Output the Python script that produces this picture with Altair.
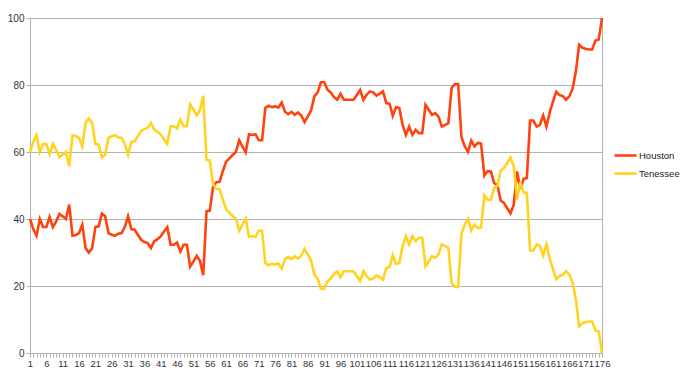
import altair as alt
import pandas as pd

index = list(range(1, 177))

houston = [
    40, 37, 35, 40, 37.6, 37.6, 40.6, 37.6, 39.3, 41.5,
    40.8, 40, 44.3, 35, 35.2, 35.8, 38.3, 31.3, 30, 31.3,
    37.6, 37.8, 41.6, 40.8, 35.8, 35.3, 35, 35.6, 35.8, 37.6,
    40.8, 37, 36.8, 35.3, 33.8, 33.1, 32.8, 31.3, 33.3, 34,
    34.8, 36.3, 37.6, 32.3, 32.3, 33, 30.3, 32.3, 32.3, 25.8,
    27.3, 29, 27.5, 23.2, 42.3, 42.5, 49.5, 51, 51.1, 54.3,
    57.1, 58.1, 59.1, 60, 63.5, 61.6, 59.9, 65.3, 65.1, 65.3,
    63.5, 63.5, 73.2, 73.8, 73.4, 73.6, 73.3, 74.8, 72, 71.3,
    72, 71.1, 71.8, 70.9, 68.9, 70.6, 72.4, 76.6, 77.8, 80.8,
    80.8, 78.6, 77.8, 76.4, 75.6, 77.4, 75.6, 75.6, 75.6, 75.6,
    77, 78.5, 75.6, 77.1, 78.1, 77.8, 76.8, 77.4, 78.1, 74.6,
    74.4, 70.8, 73.4, 73.1, 68.1, 65.1, 67.6, 65.1, 66.6, 65.6,
    65.6, 74.1, 72.6, 71.1, 71.6, 70.5, 67.6, 68.1, 68.6, 79.1,
    80.3, 80.3, 64.4, 61.7, 60, 63.4, 61.7, 62.7, 62.5, 53,
    54.3, 54.2, 50.7, 50.2, 45.5, 44.8, 43.2, 41.7, 44.2, 54.2,
    49, 52, 52.2, 69.4, 69.4, 67.6, 68.1, 70.9, 67.6, 71.8,
    75, 78, 77, 76.7, 75.6, 76.6, 78.9, 84, 92, 91.1,
    90.8, 90.6, 90.6, 93.3, 93.6, 100,
]

tenessee = [
    60, 63, 65, 60, 62.4, 62.4, 59.4, 62.4, 60.7, 58.5,
    59.2, 60, 55.7, 65, 64.8, 64.2, 61.7, 68.7, 70, 68.7,
    62.4, 62.2, 58.4, 59.2, 64.2, 64.7, 65, 64.4, 64.2, 62.4,
    59.2, 63, 63.2, 64.7, 66.2, 66.9, 67.2, 68.7, 66.7, 66,
    65.2, 63.7, 62.4, 67.7, 67.7, 67, 69.7, 67.7, 67.7, 74.2,
    72.7, 71, 72.5, 76.8, 57.7, 57.5, 50.5, 49, 48.9, 45.7,
    42.9, 41.9, 40.9, 40, 36.5, 38.4, 40.1, 34.7, 34.9, 34.7,
    36.5, 36.5, 26.8, 26.2, 26.6, 26.4, 26.7, 25.2, 28, 28.7,
    28, 28.9, 28.2, 29.1, 31.1, 29.4, 27.6, 23.4, 22.2, 19.2,
    19.2, 21.4, 22.2, 23.6, 24.4, 22.6, 24.4, 24.4, 24.4, 24.4,
    23, 21.5, 24.4, 22.9, 21.9, 22.2, 23.2, 22.6, 21.9, 25.4,
    25.6, 29.2, 26.6, 26.9, 31.9, 34.9, 32.4, 34.9, 33.4, 34.4,
    34.4, 25.9, 27.4, 28.9, 28.4, 29.5, 32.4, 31.9, 31.4, 20.9,
    19.7, 19.7, 35.6, 38.3, 40, 36.6, 38.3, 37.3, 37.5, 47,
    45.7, 45.8, 49.3, 49.8, 54.5, 55.2, 56.8, 58.3, 55.8, 45.8,
    51, 48, 47.8, 30.6, 30.6, 32.4, 31.9, 29.1, 32.4, 28.2,
    25, 22, 23, 23.3, 24.4, 23.4, 21.1, 16, 8, 8.9,
    9.2, 9.4, 9.4, 6.7, 6.4, 0,
]

series_names = ["Houston", "Tenessee"]
series_colors = ["#ff420e", "#ffd320"]
y_ticks = [0, 20, 40, 60, 80, 100]

df = pd.DataFrame({
    "idx": index + index,
    "value": houston + tenessee,
    "series": [series_names[0]] * len(houston) + [series_names[1]] * len(tenessee),
})

FONT = "Liberation Sans"
GRAY = "#b3b3b3"

chart = alt.Chart(df).mark_line(strokeWidth=2.6).encode(
    x=alt.X(
        "idx:Q",
        scale=alt.Scale(domain=[1, 176], nice=False, zero=False),
        axis=alt.Axis(
            values=index,
            labelExpr="(datum.value - 1) % 5 == 0 ? datum.label : ''",
            labelOverlap=False,
            labelFlush=False,
            grid=False,
            tickSize=4,
            tickColor=GRAY,
            domainColor=GRAY,
            labelFont=FONT,
            labelFontSize=9.5,
            labelColor="#333333",
            labelPadding=1,
            title=None,
        ),
    ),
    y=alt.Y(
        "value:Q",
        scale=alt.Scale(domain=[0, 100], nice=False),
        axis=alt.Axis(
            values=y_ticks,
            grid=True,
            gridColor=GRAY,
            tickSize=4,
            tickColor=GRAY,
            domainColor=GRAY,
            labelFont=FONT,
            labelFontSize=10,
            labelColor="#333333",
            labelPadding=2,
            title=None,
        ),
    ),
    color=alt.Color(
        "series:N",
        scale=alt.Scale(domain=series_names, range=series_colors),
        legend=alt.Legend(
            title=None,
            orient="none",
            legendX=583,
            legendY=125,
            symbolType="stroke",
            symbolSize=484,
            symbolStrokeWidth=2.6,
            labelFont=FONT,
            labelFontSize=9.5,
            labelColor="#222222",
            labelOffset=1,
            rowPadding=-10,
        ),
    ),
).properties(
    width=572,
    height=335,
    autosize=alt.AutoSizeParams(type="none"),
    padding={"left": 30, "top": 18, "right": 85, "bottom": 24},
).configure_view(
    stroke=GRAY,
    strokeWidth=1,
)

chart.save("out.html", embed_options={"renderer": "svg", "actions": False})
